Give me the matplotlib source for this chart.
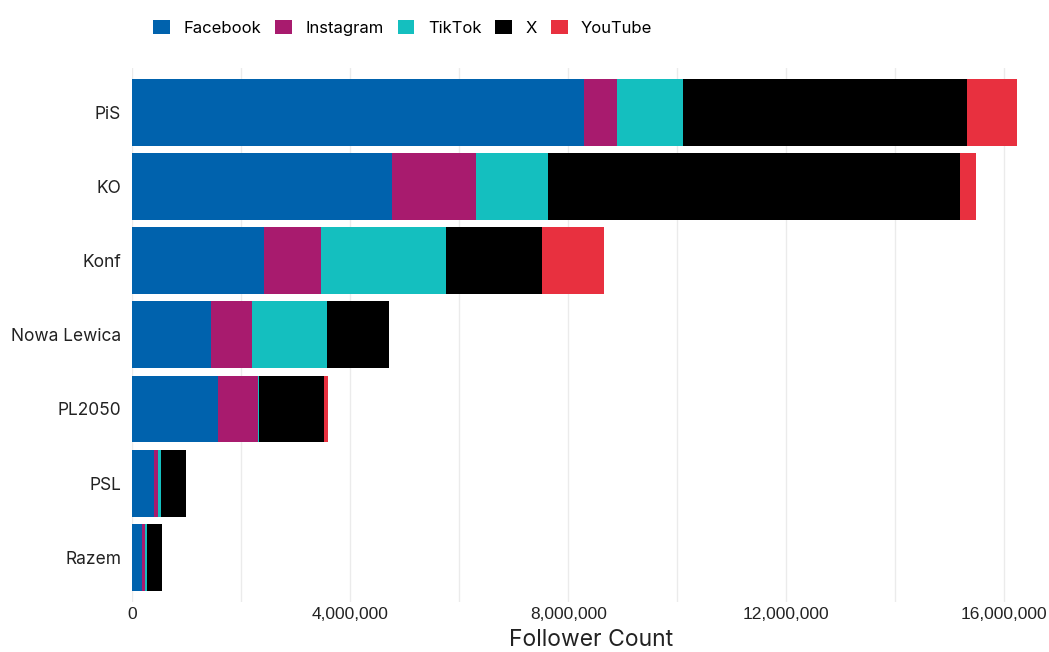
import matplotlib.pyplot as plt
import numpy as np
from matplotlib.ticker import FuncFormatter, MultipleLocator

plt.rcParams['font.family'] = ['Inter', 'DejaVu Sans']

parties = ['PiS', 'KO', 'Konf', 'Nowa Lewica', 'PL2050', 'PSL', 'Razem']
platforms = ['Facebook', 'Instagram', 'TikTok', 'X', 'YouTube']
colors = ['#0062ad', '#a81b6e', '#14bfbf', '#000000', '#e8303f']

facebook = [8.29e6, 4.77e6, 2.42e6, 1.45e6, 1.58e6, 0.40e6, 0.18e6]
instagram = [0.61e6, 1.54e6, 1.05e6, 0.75e6, 0.73e6, 0.07e6, 0.05e6]
tiktok = [1.21e6, 1.32e6, 2.29e6, 1.38e6, 0.02e6, 0.05e6, 0.04e6]
x_follow = [5.21e6, 7.56e6, 1.76e6, 1.14e6, 1.19e6, 0.46e6, 0.28e6]
youtube = [0.92e6, 0.29e6, 1.14e6, 0.0, 0.07e6, 0.0, 0.0]

series = [facebook, instagram, tiktok, x_follow, youtube]

fig = plt.figure(figsize=(10.49, 6.52), dpi=100)
ax = fig.add_axes([0.126, 0.077, 0.874, 0.819])

y = np.arange(len(parties))
left = np.zeros(len(parties))
for name, vals, c in zip(platforms, series, colors):
    ax.barh(y, vals, left=left, height=0.9, color=c, label=name, zorder=2)
    left += np.array(vals)

ax.set_yticks(y)
ax.set_yticklabels(parties, fontsize=12.5, color='#222222')
ax.set_ylim(len(parties) - 0.4, -0.6)
ax.set_xlim(0, 16.82e6)

ax.xaxis.set_major_locator(MultipleLocator(4e6))
ax.xaxis.set_minor_locator(MultipleLocator(2e6))
ax.xaxis.set_major_formatter(FuncFormatter(lambda v, p: f'{int(v):,}'))
for lab in ax.get_xticklabels():
    lab.set_fontfamily(['Liberation Sans Narrow', 'Liberation Sans', 'DejaVu Sans'])
    lab.set_fontsize(12.5)
    lab.set_color('#222222')
ax.grid(axis='x', which='both', color='#ebebeb', linewidth=1, zorder=0)
ax.tick_params(axis='y', which='both', length=0, pad=8)
ax.tick_params(axis='x', which='both', length=0, pad=4)
for s in ax.spines.values():
    s.set_visible(False)

ax.set_xlabel('Follower Count', fontsize=16.5, labelpad=5, color='#222222')

fig.legend(loc='upper left', bbox_to_anchor=(0.132, 0.993), ncol=5, frameon=False,
           fontsize=12, handlelength=1.0, handleheight=1.0, handletextpad=0.8,
           columnspacing=0.85)

fig.savefig('out.png', dpi=100)
